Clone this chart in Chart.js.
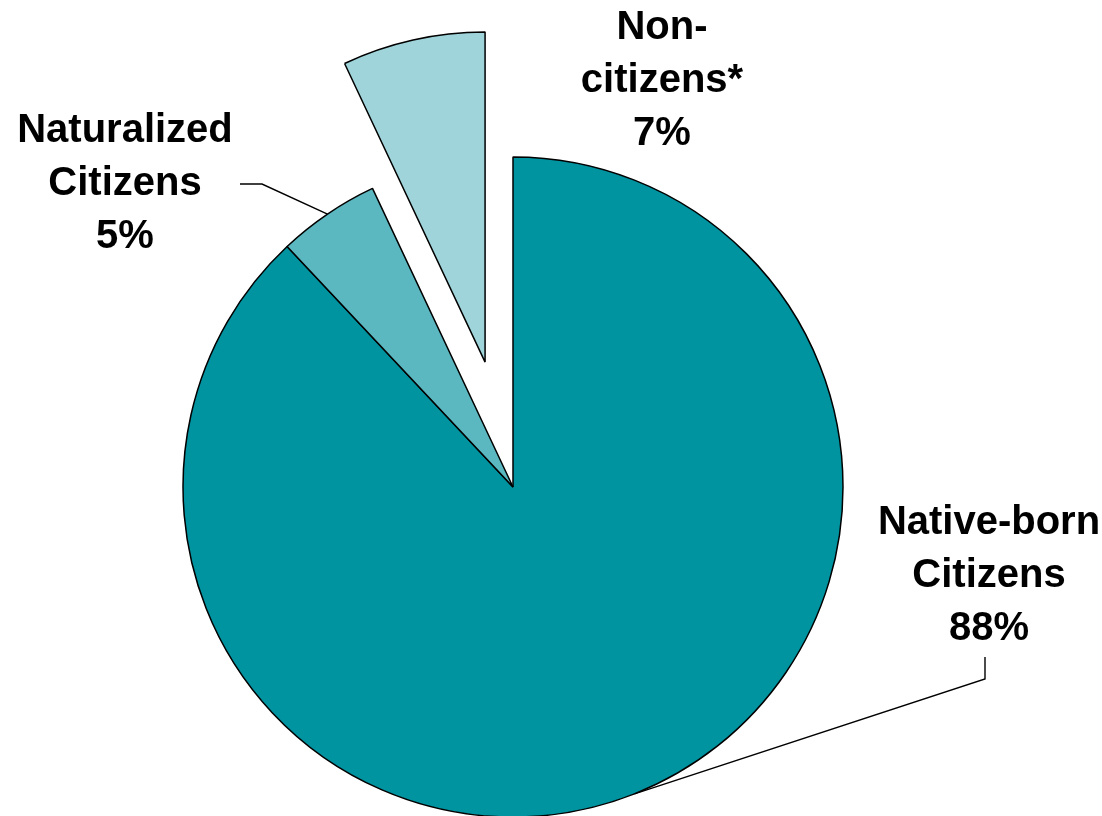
<!DOCTYPE html>
<html lang="en">
<head>
    <meta charset="UTF-8">
    <title>Citizenship Status</title>
    <script src="https://cdn.jsdelivr.net/npm/chart.js"></script>
    <style>
        body {
            margin: 0;
            background: #ffffff;
        }
        #wrap {
            width: 1102px;
            height: 816px;
        }
    </style>
</head>
<body>
    <div id="wrap"><canvas id="pie" width="1102" height="816"></canvas></div>
    <script>
        // data
        const categories = ['Native-born Citizens', 'Naturalized Citizens', 'Non-citizens*'];
        const shares = [88, 5, 7];
        const labelLines = [
            ['Native-born', 'Citizens', '88%'],
            ['Naturalized', 'Citizens', '5%'],
            ['Non-', 'citizens*', '7%']
        ];

        // styling / layout
        const sliceColors = ['#0093a0', '#5cb8c0', '#9fd5da'];
        const explodePx = [0, 0, 128];   // how far each slice is pulled out
        const labelPos = [
            { x: 989, y: 523, lead: [[985, 657], [985, 679]] },
            { x: 125, y: 131, lead: [[240, 184], [262, 184]] },
            { x: 662, y: 28, lead: null }
        ];
        const lineGap = 53;

        // Chart.js moves an arc by offset/4 but also grows it and trims its angle;
        // undo both so the pulled-out slice keeps its true size
        const keepShape = {
            id: 'keepShape',
            beforeDatasetsDraw(chart) {
                const meta = chart.getDatasetMeta(0);
                const r = meta.controller.outerRadius;
                meta.data.forEach((a, i) => {
                    if (a._start === undefined) {
                        a._start = a.startAngle;
                        a._end = a.endAngle;
                    }
                    const shift = explodePx[i];
                    const fix = 1 - Math.sin(Math.min(Math.PI, a.circumference || 0));
                    const grow = shift * fix;
                    const trim = grow / (2 * Math.PI * r);
                    a.outerRadius = r - grow;
                    a.startAngle = a._start - trim;
                    a.endAngle = a._end + trim;
                });
            }
        };

        const labelPlugin = {
            id: 'sliceLabels',
            afterDatasetsDraw(chart) {
                const ctx = chart.ctx;
                const arcs = chart.getDatasetMeta(0).data;
                ctx.save();
                ctx.fillStyle = '#000';
                ctx.strokeStyle = '#000';
                ctx.lineWidth = 1.4;
                ctx.font = 'bold 40px "Liberation Sans", Arial, sans-serif';
                ctx.textAlign = 'center';
                ctx.textBaseline = 'middle';
                labelLines.forEach((lines, i) => {
                    const p = labelPos[i];
                    lines.forEach((t, k) => ctx.fillText(t, p.x, p.y + k * lineGap));
                    if (p.lead) {
                        // leader ends at the middle of the slice's outer edge
                        const a = arcs[i];
                        const mid = (a.startAngle + a.endAngle) / 2;
                        const ex = a.x + Math.cos(mid) * a.outerRadius;
                        const ey = a.y + Math.sin(mid) * a.outerRadius;
                        ctx.beginPath();
                        ctx.moveTo(p.lead[0][0], p.lead[0][1]);
                        ctx.lineTo(p.lead[1][0], p.lead[1][1]);
                        ctx.lineTo(ex, ey);
                        ctx.stroke();
                    }
                });
                ctx.restore();
            }
        };

        new Chart(document.getElementById('pie'), {
            type: 'pie',
            data: {
                labels: categories,
                datasets: [{
                    data: shares,
                    backgroundColor: sliceColors,
                    borderColor: '#000',
                    borderWidth: 1.5,
                    offset: explodePx.map(v => v * 4)
                }]
            },
            options: {
                responsive: false,
                animation: false,
                radius: 330,
                layout: { padding: { left: 0, right: 76, top: 158, bottom: 0 } },
                plugins: {
                    legend: { display: false },
                    tooltip: { enabled: false }
                }
            },
            plugins: [keepShape, labelPlugin]
        });
    </script>
</body>
</html>
